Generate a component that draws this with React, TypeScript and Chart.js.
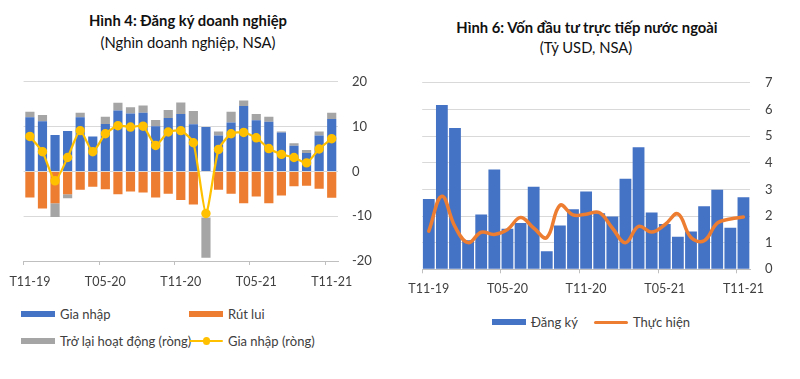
import React, { useEffect, useRef } from "react";
import { Chart, registerables } from "chart.js";

Chart.register(...registerables);

// ---------- Data ----------
const months = [
  "T11-19", "T12-19", "T01-20", "T02-20", "T03-20", "T04-20", "T05-20",
  "T06-20", "T07-20", "T08-20", "T09-20", "T10-20", "T11-20", "T12-20",
  "T01-21", "T02-21", "T03-21", "T04-21", "T05-21", "T06-21", "T07-21",
  "T08-21", "T09-21", "T10-21", "T11-21",
];

// Hình 4 (thousand enterprises)
const giaNhap = [12.1, 11.2, 8.1, 9.0, 12.1, 7.8, 10.6, 13.6, 12.9, 13.1, 10.1, 11.9, 12.8, 10.5, 9.9, 8.0, 10.9, 14.6, 11.4, 11.1, 8.7, 5.7, 4.1, 8.0, 11.7];
const rutLui = [-5.8, -8.3, -7.1, -5.1, -4.1, -3.4, -4.0, -5.1, -4.5, -4.7, -5.8, -5.0, -6.4, -7.4, -10.3, -4.1, -5.0, -7.1, -5.6, -7.1, -5.4, -3.3, -3.2, -3.9, -5.9];
const troLai = [1.2, 1.4, -3.1, -0.9, 1.0, 0, 1.6, 1.7, 1.4, 1.6, 1.4, 1.8, 2.6, 3.0, -9.0, 0.9, 2.4, 1.2, 1.4, 1.1, 0.2, 0.6, 0.7, 0.9, 1.4];
const giaNhapRong = [7.8, 4.4, -2.1, 3.1, 9.1, 4.4, 8.4, 10.2, 9.9, 10.1, 5.8, 8.8, 9.1, 6.4, -9.4, 4.9, 8.4, 8.7, 7.5, 5.1, 3.8, 3.1, 1.9, 5.0, 7.3];
// index of the month whose withdrawal bar is not shown in the reference
const hiddenRutLui = [14];

// Hình 6 (billion USD)
const dangKy = [2.64, 6.17, 5.30, 1.09, 2.06, 3.75, 1.52, 1.74, 3.10, 0.68, 1.64, 2.25, 2.92, 2.10, 1.98, 3.40, 4.58, 2.13, 1.70, 1.22, 1.42, 2.37, 2.99, 1.56, 2.70];
const thucHien = [1.43, 2.74, 1.60, 1.00, 1.39, 1.31, 1.49, 1.94, 1.55, 1.19, 2.40, 2.04, 2.07, 2.13, 1.55, 1.00, 1.61, 1.40, 1.67, 2.08, 1.19, 1.07, 1.73, 1.89, 1.96];

const leftTicks = [-20, -10, 0, 10, 20];
const rightTicks = [0, 1, 2, 3, 4, 5, 6, 7];

// ---------- Styles ----------
const BLUE = "#4472C4";
const ORANGE = "#ED7D31";
const GRAY = "#A5A5A5";
const YELLOW = "#FFC000";
const GRID = "#D9D9D9";
const AXIS = "#BFBFBF";
const TEXT = "#404040";
const FONT = "Lato";

const xAxis = (height: number, pad: number) => ({
  stacked: true,
  offset: true,
  grid: {
    offset: true,
    drawOnChartArea: false,
    drawTicks: true,
    tickLength: 4,
    color: (ctx: any) => (ctx.index !== undefined && ctx.index % 6 === 0 ? AXIS : "rgba(0,0,0,0)"),
  },
  border: { display: true, color: AXIS, width: 1 },
  ticks: {
    autoSkip: false,
    maxRotation: 0,
    minRotation: 0,
    padding: pad,
    color: TEXT,
    font: { family: FONT, size: 12.5 },
    callback: (_v: any, i: number) => (i % 6 === 0 ? months[i] : ""),
  },
  afterFit: (s: any) => {
    s.height = height;
  },
});

const yAxis = (width: number, min: number, max: number, step: number, ticksArr: number[], pad: number) => ({
  position: "right" as const,
  stacked: true,
  min,
  max,
  grid: { color: GRID, drawTicks: false, lineWidth: 1 },
  border: { display: false },
  afterBuildTicks: (s: any) => {
    s.ticks = ticksArr.map((v) => ({ value: v }));
  },
  ticks: {
    stepSize: step,
    padding: pad,
    color: TEXT,
    font: { family: FONT, size: 13 },
  },
  afterFit: (s: any) => {
    s.width = width;
  },
});

function LeftChart() {
  const ref = useRef<HTMLCanvasElement | null>(null);
  useEffect(() => {
    if (!ref.current) return;
    const chart = new Chart(ref.current, {
      type: "bar",
      data: {
        labels: months,
        datasets: [
          {
            type: "line" as const,
            label: "Gia nhập (ròng)",
            data: giaNhapRong,
            stack: "net",
            borderColor: YELLOW,
            backgroundColor: YELLOW,
            borderWidth: 2.25,
            pointRadius: 3.6,
            pointBackgroundColor: YELLOW,
            pointBorderColor: YELLOW,
            tension: 0.2,
          },
          {
            label: "Gia nhập",
            data: giaNhap,
            backgroundColor: BLUE,
            stack: "s",
            barPercentage: 0.73,
            categoryPercentage: 1,
          },
          {
            label: "Rút lui",
            data: rutLui,
            backgroundColor: rutLui.map((_, i) => (hiddenRutLui.includes(i) ? "rgba(255,255,255,0)" : ORANGE)),
            stack: "s",
            barPercentage: 0.73,
            categoryPercentage: 1,
          },
          {
            label: "Trở lại hoạt động (ròng)",
            data: troLai,
            backgroundColor: GRAY,
            stack: "s",
            barPercentage: 0.73,
            categoryPercentage: 1,
          },
        ],
      },
      options: {
        responsive: false,
        animation: false,
        devicePixelRatio: 1,
        layout: { padding: { left: 19, top: 16.7, right: 0, bottom: 0 } },
        plugins: { legend: { display: false }, tooltip: { enabled: false }, title: { display: false } },
        scales: {
          x: xAxis(39, 9) as any,
          y: yAxis(62, -20, 20, 10, leftTicks, 14) as any,
        },
      },
    });
    return () => chart.destroy();
  }, []);
  return (
    <canvas
      ref={ref}
      width={400}
      height={240}
      style={{ position: "absolute", left: 0, top: 60, width: 400, height: 240 }}
    />
  );
}

function RightChart() {
  const ref = useRef<HTMLCanvasElement | null>(null);
  useEffect(() => {
    if (!ref.current) return;
    const chart = new Chart(ref.current, {
      type: "bar",
      data: {
        labels: months,
        datasets: [
          {
            type: "line" as const,
            label: "Thực hiện",
            data: thucHien,
            stack: "line",
            borderColor: ORANGE,
            backgroundColor: ORANGE,
            borderWidth: 3.5,
            pointRadius: 0,
            tension: 0.4,
            borderCapStyle: "round",
            borderJoinStyle: "round",
          },
          {
            label: "Đăng ký",
            data: dangKy,
            backgroundColor: BLUE,
            stack: "s",
            barPercentage: 0.9,
            categoryPercentage: 1,
          },
        ],
      },
      options: {
        responsive: false,
        animation: false,
        devicePixelRatio: 1,
        layout: { padding: { left: 12.7, top: 16.7, right: 0, bottom: 0 } },
        plugins: { legend: { display: false }, tooltip: { enabled: false }, title: { display: false } },
        scales: {
          x: xAxis(30.7, 8) as any,
          y: yAxis(50, 0, 7, 1, rightTicks, 15) as any,
        },
      },
    });
    return () => chart.destroy();
  }, []);
  return (
    <canvas
      ref={ref}
      width={400}
      height={240}
      style={{ position: "absolute", left: 400, top: 60, width: 400, height: 240 }}
    />
  );
}

const textBase: React.CSSProperties = {
  position: "absolute",
  fontFamily: FONT,
  color: "#111111",
  whiteSpace: "nowrap",
  lineHeight: 1,
};

function Centered({ x, y, bold, size, children }: { x: number; y: number; bold?: boolean; size: number; children: React.ReactNode }) {
  return (
    <div
      style={{
        ...textBase,
        left: x,
        top: y,
        transform: "translate(-50%, -50%)",
        fontWeight: bold ? 700 : 400,
        fontSize: size,
      }}
    >
      {children}
    </div>
  );
}

function LegendItem({ x, y, kind, color, label }: { x: number; y: number; kind: "box" | "line" | "linedot"; color: string; label: string }) {
  return (
    <div style={{ position: "absolute", left: x, top: y - 8, height: 16, display: "flex", alignItems: "center" }}>
      <div style={{ position: "relative", width: 34, height: 16, marginRight: 5 }}>
        {kind === "box" && (
          <div style={{ position: "absolute", left: 0, top: 5, width: 34, height: 6, background: color }} />
        )}
        {kind !== "box" && (
          <div style={{ position: "absolute", left: 0, top: 6.5, width: 34, height: kind === "line" ? 3.5 : 2.25, background: color, borderRadius: 2 }} />
        )}
        {kind === "linedot" && (
          <div style={{ position: "absolute", left: 13.5, top: 4, width: 7.5, height: 7.5, borderRadius: "50%", background: color }} />
        )}
      </div>
      <span style={{ fontFamily: FONT, fontSize: 13, color: TEXT, whiteSpace: "nowrap" }}>{label}</span>
    </div>
  );
}

export default function App() {
  return (
    <div style={{ position: "fixed", left: 0, top: 0, width: 800, height: 379, background: "#fff", overflow: "hidden" }}>
      <Centered x={188} y={20} bold size={14.8}>Hình 4: Đăng ký doanh nghiệp</Centered>
      <Centered x={188} y={42} size={14.8}>(Nghìn doanh nghiệp, NSA)</Centered>
      <Centered x={587} y={27} bold size={14.8}>Hình 6: Vốn đầu tư trực tiếp nước ngoài</Centered>
      <Centered x={586} y={47} size={14.8}>(Tỷ USD, NSA)</Centered>
      <LeftChart />
      <RightChart />
      <LegendItem x={21} y={314} kind="box" color={BLUE} label="Gia nhập" />
      <LegendItem x={189} y={314} kind="box" color={ORANGE} label="Rút lui" />
      <LegendItem x={21} y={341} kind="box" color={GRAY} label="Trở lại hoạt động (ròng)" />
      <LegendItem x={189} y={341} kind="linedot" color={YELLOW} label="Gia nhập (ròng)" />
      <LegendItem x={492} y={322} kind="box" color={BLUE} label="Đăng ký" />
      <LegendItem x={594} y={322} kind="line" color={ORANGE} label="Thực hiện" />
    </div>
  );
}
